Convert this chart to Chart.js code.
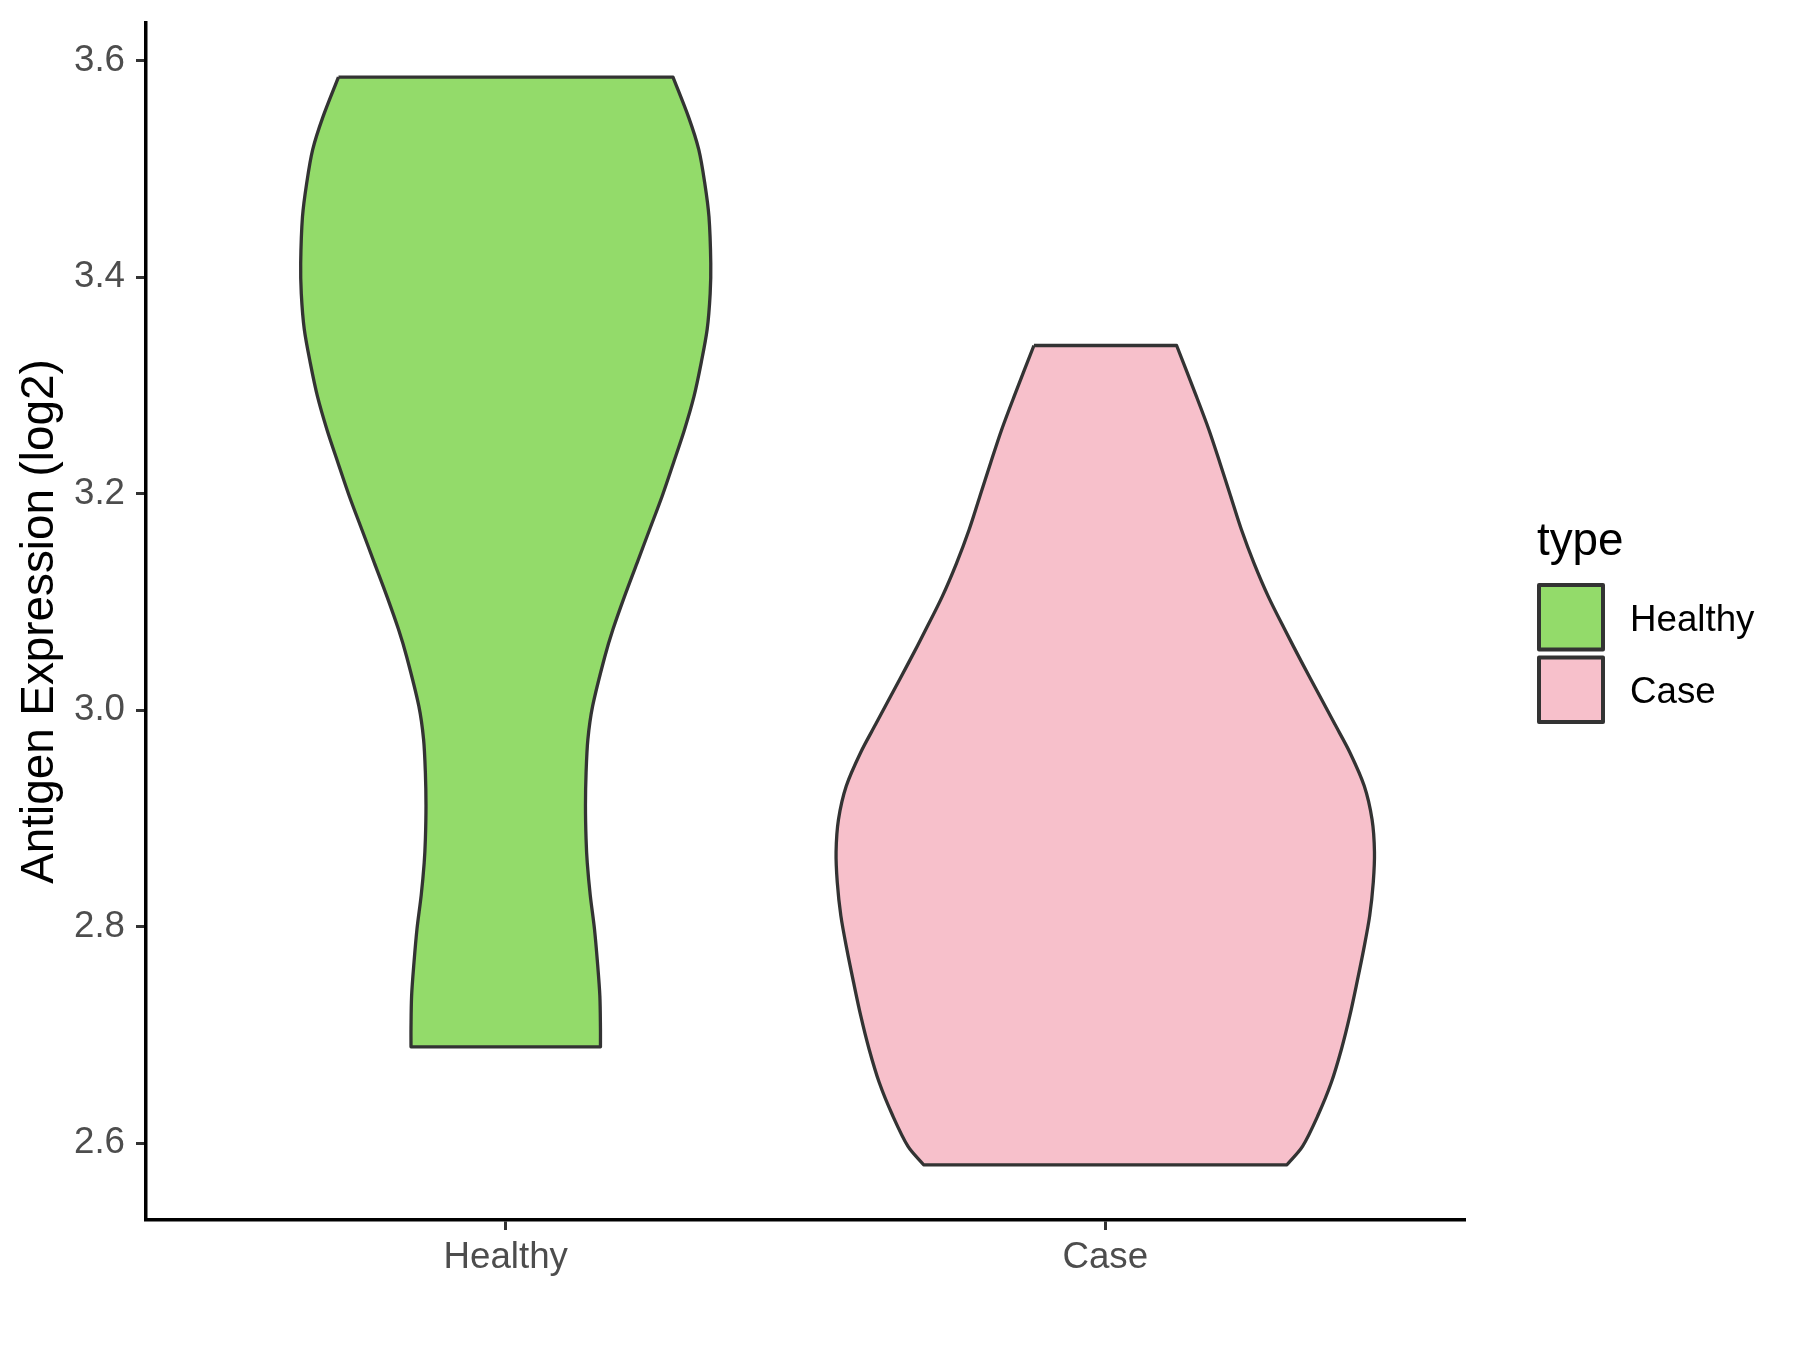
<!DOCTYPE html>
<html>
<head>
<meta charset="utf-8">
<title>Antigen Expression (log2) – violin</title>
<script src="https://cdn.jsdelivr.net/npm/chart.js@4.4.1/dist/chart.umd.min.js"></script>
<style>
  html, body { margin: 0; padding: 0; background: #ffffff; }
  #wrap { width: 1800px; height: 1350px; }
</style>
</head>
<body>
<div id="wrap"><canvas id="violin" width="1800" height="1350"></canvas></div>
<script>
// categories, colours, ticks
const categories = ["Healthy", "Case"];
const fillColors = ["#93DB6A", "#F7C0CB"];
const yTicks     = [2.6, 2.8, 3.0, 3.2, 3.4, 3.6];
const yMin = 2.529, yMax = 3.635;

// violin outlines: value (log2) and half-width (category units)
const healthyY    = [3.585, 3.548, 3.518, 3.487, 3.456, 3.413, 3.385, 3.352, 3.321, 3.290, 3.259,
                     3.229, 3.198, 3.167, 3.136, 3.105, 3.075, 3.049, 3.004, 2.973, 2.942, 2.912,
                     2.881, 2.859, 2.829, 2.798, 2.767, 2.736, 2.706, 2.689];
const healthyHalf = [0.279, 0.305, 0.322, 0.332, 0.339, 0.342, 0.341, 0.336, 0.326, 0.314, 0.298,
                     0.280, 0.261, 0.240, 0.219, 0.198, 0.179, 0.165, 0.145, 0.137, 0.134, 0.133,
                     0.134, 0.136, 0.141, 0.148, 0.153, 0.157, 0.158, 0.158];

const caseY    = [3.337, 3.290, 3.259, 3.229, 3.198, 3.167, 3.136, 3.105, 3.075, 3.044, 3.013,
                  2.987, 2.961, 2.930, 2.899, 2.869, 2.841, 2.810, 2.779, 2.749, 2.718, 2.687,
                  2.656, 2.626, 2.597, 2.580];
const caseHalf = [0.119, 0.152, 0.173, 0.191, 0.209, 0.227, 0.248, 0.272, 0.299, 0.328, 0.358,
                  0.383, 0.408, 0.432, 0.445, 0.449, 0.447, 0.441, 0.431, 0.420, 0.408, 0.394,
                  0.377, 0.355, 0.329, 0.303];

const FONT = "'Liberation Sans', Arial, sans-serif";

// 左側を上から下へ、右側を下から上へ辿って閉じた輪郭にする。
// 角の点は二重にして、曲線補間が上下の水平辺を膨らませないようにする。
function outline(center, ys, halves) {
  const left  = ys.map((y, i) => ({ x: center - halves[i], y }));
  const right = ys.map((y, i) => ({ x: center + halves[i], y })).reverse();
  const n = left.length;
  return [
    ...left, left[n - 1],
    right[0], ...right, right[n - 1],
    left[0],
  ];
}

// ggplot 風の凡例（タイトル "type" + 正方形キー）
const typeLegend = {
  id: "typeLegend",
  afterDraw(chart) {
    const ctx = chart.ctx;
    ctx.save();
    ctx.fillStyle = "#000000";
    ctx.font = `45.8px ${FONT}`;
    ctx.textBaseline = "alphabetic";
    ctx.fillText("type", 1537, 555);
    chart.data.datasets.forEach((ds, i) => {
      const top = 585 + i * 72.5;
      ctx.fillStyle = ds.backgroundColor;
      ctx.fillRect(1539, top, 64, 64.5);
      ctx.lineWidth   = 4;
      ctx.lineJoin    = "round";
      ctx.strokeStyle = "#333333";
      ctx.strokeRect(1539, top, 64, 64.5);
      ctx.fillStyle = "#000000";
      ctx.font = `36.7px ${FONT}`;
      ctx.fillText(ds.label, 1630, top + 45.5);
    });
    ctx.restore();
  },
};

const datasets = [
  { label: categories[0], data: outline(1, healthyY, healthyHalf), backgroundColor: fillColors[0] },
  { label: categories[1], data: outline(2, caseY, caseHalf),       backgroundColor: fillColors[1] },
].map(d => Object.assign(d, {
  borderColor:      "#333333",
  borderWidth:      3.3,
  borderJoinStyle:  "round",
  fill:             "shape",
  pointRadius:      0,
  pointHoverRadius: 0,
  tension:          0.3,
  capBezierPoints:  false,
}));

new Chart(document.getElementById("violin"), {
  type: "line",
  data: { datasets },
  options: {
    responsive:       false,
    devicePixelRatio: 1,
    animation:        false,
    layout: { padding: { left: 0, top: 23, right: 335, bottom: 0 } },
    plugins: {
      legend:  { display: false },
      tooltip: { enabled: false },
    },
    scales: {
      x: {
        type: "linear",
        min:  0.4,
        max:  2.6,
        afterBuildTicks: (axis) => { axis.ticks = categories.map((c, i) => ({ value: i + 1 })); },
        afterFit: (axis) => { axis.height = 130; },
        ticks: {
          callback: (v) => categories[Math.round(v) - 1] ?? "",
          color: "#4D4D4D",
          font: { family: FONT, size: 36.7 },
          padding: 6,
          maxRotation: 0,
          autoSkip: false,
        },
        grid:   { drawOnChartArea: false, drawTicks: true, tickLength: 10, tickWidth: 3, tickColor: "#333333" },
        border: { display: true, color: "#000000", width: 3.5 },
      },
      y: {
        type: "linear",
        min:  yMin,
        max:  yMax,
        afterBuildTicks: (axis) => { axis.ticks = yTicks.map(v => ({ value: v })); },
        afterFit: (axis) => { axis.width = 146; axis.paddingTop = 0; axis.paddingBottom = 0; },
        ticks: {
          callback: (v) => Number(v).toFixed(1),
          color: "#4D4D4D",
          font: { family: FONT, size: 36.7, lineHeight: 1.0 },
          padding: 11,
        },
        title: {
          display: true,
          text:    "Antigen Expression (log2)",
          color:   "#000000",
          font:    { family: FONT, size: 45.8 },
          padding: { top: 13, bottom: 0 },
        },
        grid:   { drawOnChartArea: false, drawTicks: true, tickLength: 10, tickWidth: 3, tickColor: "#333333" },
        border: { display: true, color: "#000000", width: 3.5 },
      },
    },
  },
  plugins: [typeLegend],
});
</script>
</body>
</html>
